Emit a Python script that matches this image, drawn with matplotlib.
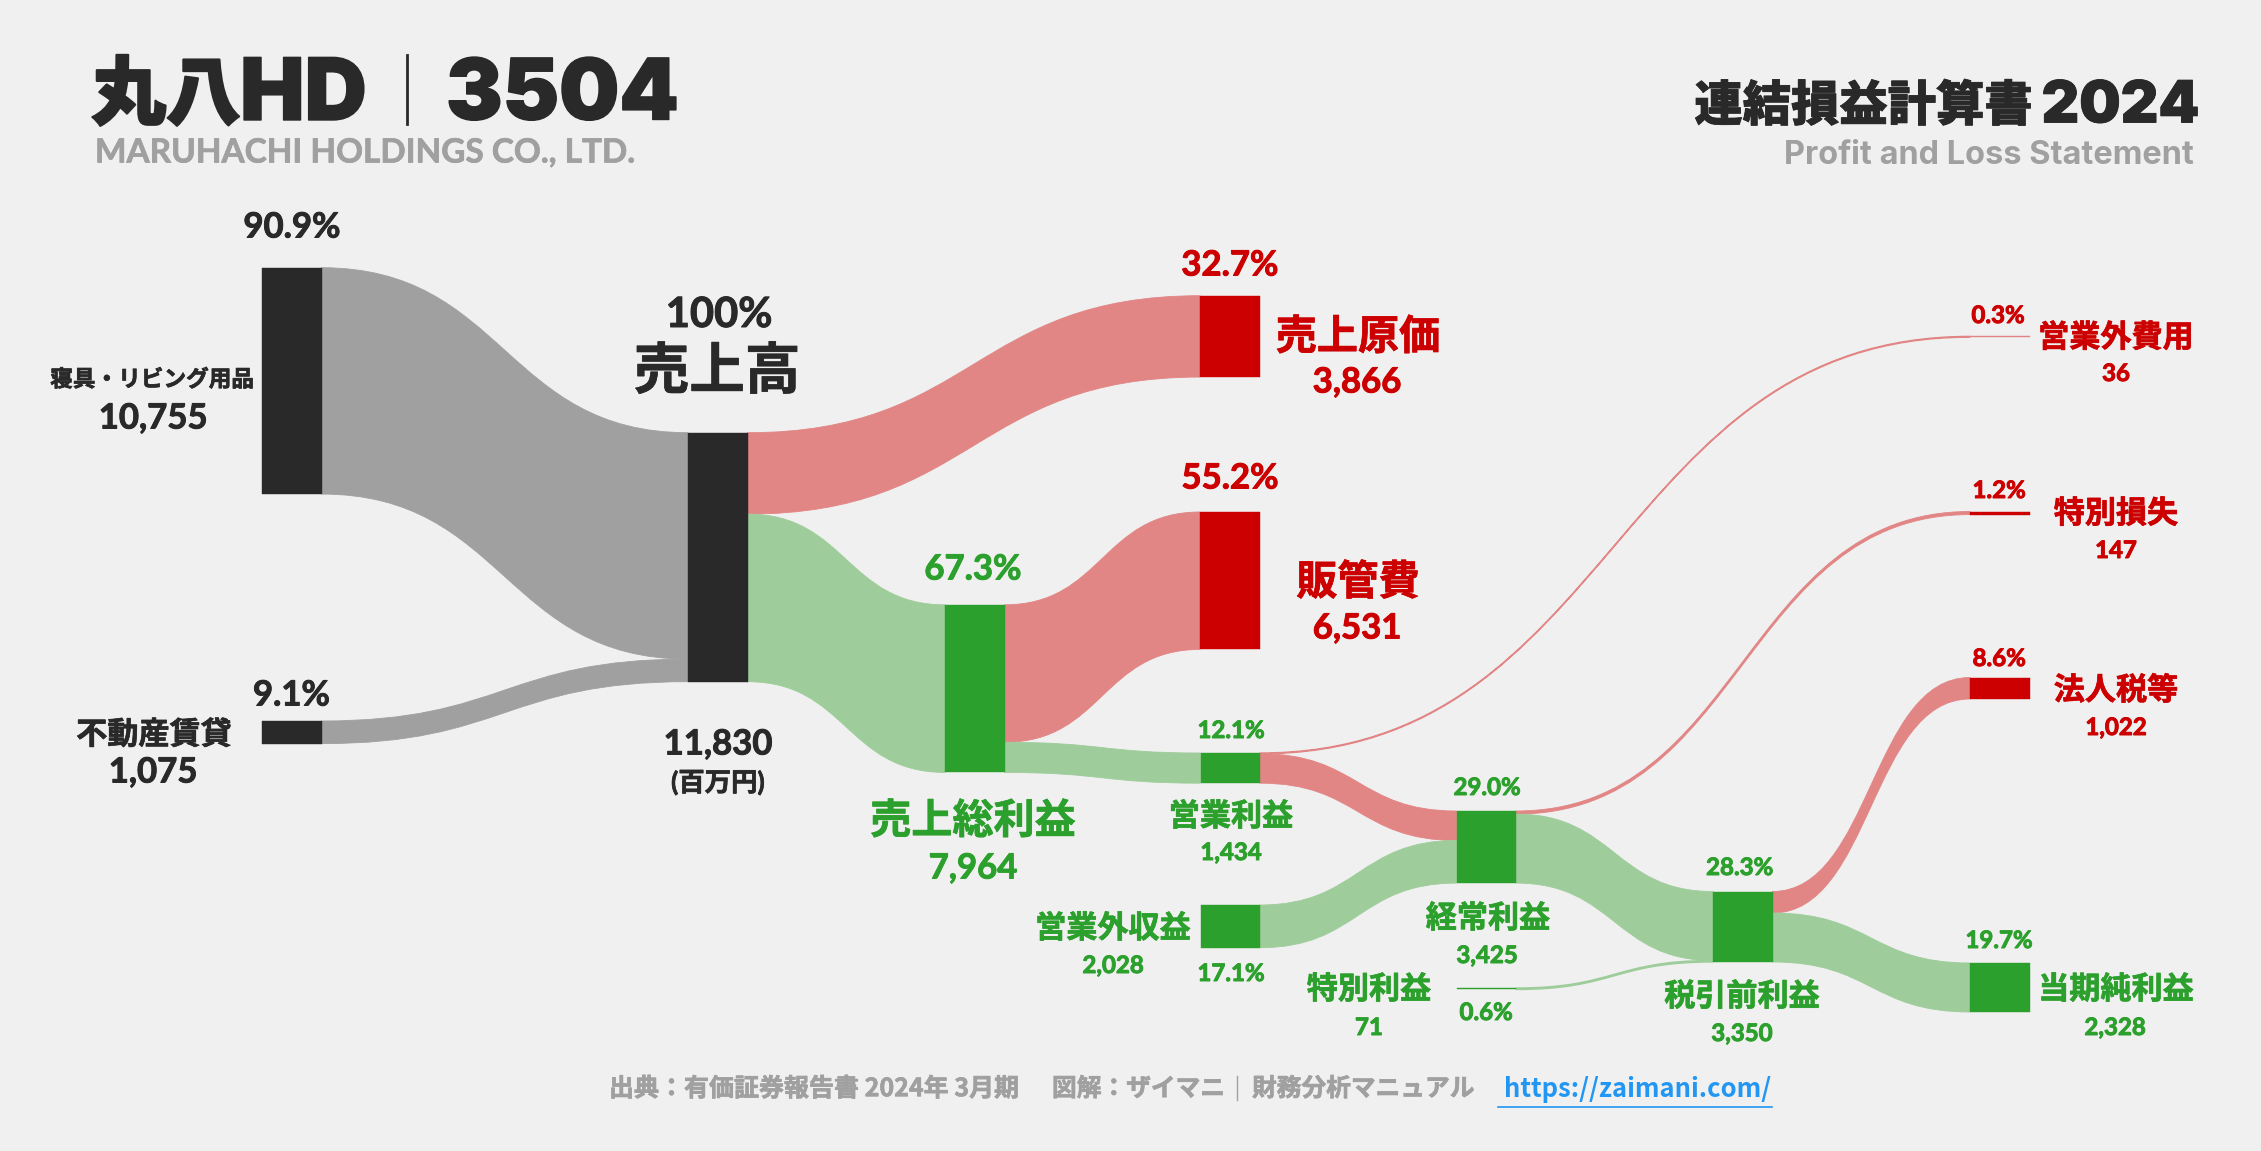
#!/usr/bin/env python
import matplotlib
matplotlib.use('Agg')
import matplotlib.pyplot as plt
import matplotlib.patheffects as pe
from matplotlib.path import Path
from matplotlib.patches import PathPatch, Rectangle

# data (million yen)
node_names = ['寝具・リビング用品', '不動産賃貸', '売上高', '売上原価', '売上総利益', '販管費',
              '営業利益', '営業外収益', '営業外費用', '経常利益', '特別損失', '特別利益',
              '税引前利益', '法人税等', '当期純利益']
node_values = [10755, 1075, 11830, 3866, 7964, 6531, 1434, 2028, 36, 3425, 147, 71, 3350, 1022, 2328]
node_pcts = [90.9, 9.1, 100, 32.7, 67.3, 55.2, 12.1, 17.1, 0.3, 29.0, 1.2, 0.6, 28.3, 8.6, 19.7]
node_kinds = ['k', 'k', 'k', 'r', 'g', 'r', 'g', 'g', 'r', 'g', 'r', 'g', 'g', 'r', 'g']

link_from = ['寝具・リビング用品', '不動産賃貸', '売上高', '売上高', '売上総利益', '売上総利益', '営業利益', '営業利益',
             '営業外収益', '経常利益', '経常利益', '特別利益', '税引前利益', '税引前利益']
link_to = ['売上高', '売上高', '売上原価', '売上総利益', '販管費', '営業利益', '営業外費用', '経常利益',
           '経常利益', '特別損失', '税引前利益', '税引前利益', '法人税等', '当期純利益']
link_values = [10755, 1075, 3866, 7964, 6531, 1434, 36, 1398, 2028, 147, 3278, 71, 1022, 2328]
link_kinds = ['k', 'k', 'r', 'g', 'r', 'g', 'r', 'r', 'g', 'r', 'g', 'g', 'r', 'g']

# layout, all in pixels of the 2261x1151 picture
W, H = 2261, 1151
px_per_unit = 249.0 / 11830
node_w = 59.5
node_pos = {'寝具・リビング用品': (262, 267.7), '不動産賃貸': (262, 721), '売上高': (688, 432.7),
            '売上原価': (1200, 295.7), '売上総利益': (945, 604.8), '販管費': (1200, 512),
            '営業利益': (1200.5, 753), '営業外収益': (1200.5, 905), '営業外費用': (1970, 336.4),
            '経常利益': (1456.5, 811), '特別損失': (1970, 511.5), '特別利益': (1456.5, 988),
            '税引前利益': (1713, 891.5), '法人税等': (1970, 677.5), '当期純利益': (1970, 963)}

# node: pct xy, name xy, value xy, pct size, name size, value size
big, mid, small, name_s = 25, 29.6, 17.3, 22.4
label_pos = {
    '寝具・リビング用品': ((292, 226), (152, 379), (153, 417), big, 16.3, 25),
    '不動産賃貸': ((291.5, 694), (154, 733), (153, 771), big, 22.4, big),
    '売上高': ((719, 313), (717, 368), (718, 743), 30, 40, big),
    '売上原価': ((1230, 264), (1358, 335), (1357, 381), big, mid, big),
    '売上総利益': ((973, 568), (973, 819), (973, 867), big, mid, big),
    '販管費': ((1230, 477), (1358, 580), (1357, 627), big, mid, big),
    '営業利益': ((1231, 730), (1231, 815), (1231, 852), small, name_s, small),
    '営業外収益': ((1231, 973), (1113, 927), (1113, 965), small, name_s, small),
    '営業外費用': ((1998, 315), (2116, 336), (2116, 373), small, name_s, small),
    '経常利益': ((1487, 787), (1488, 917), (1487, 955), small, name_s, small),
    '特別損失': ((1999, 490), (2116, 512), (2116, 550), small, name_s, small),
    '特別利益': ((1486, 1012), (1369, 988), (1369, 1027), small, name_s, small),
    '税引前利益': ((1739.5, 867), (1742, 995), (1742, 1033), small, name_s, small),
    '法人税等': ((1999, 658), (2116, 689), (2116, 727), small, name_s, small),
    '当期純利益': ((1999, 940), (2116, 988), (2115, 1027), small, name_s, small),
}

BG = '#f0f0f0'
DARK = '#292929'
GRAY = '#a0a0a0'
URL = '#2196f3'
node_color = {'k': DARK, 'r': '#cc0000', 'g': '#2ca02c'}
flow_color = {'k': '#a0a0a0', 'r': '#e28585', 'g': '#9ecd9b'}
FONT = ['Lato', 'Noto Sans CJK JP', 'DejaVu Sans']
CJK = ['Noto Sans CJK JP', 'DejaVu Sans']
LATIN = ['Inter', 'Noto Sans CJK JP', 'DejaVu Sans']

plt.rcParams['font.family'] = FONT

fig = plt.figure(figsize=(W / 100.0, H / 100.0), dpi=100, facecolor=BG)
ax = fig.add_axes([0, 0, 1, 1])
ax.set_xlim(0, W)
ax.set_ylim(H, 0)
ax.axis('off')


def put(x, y, s, size, color, family=FONT, weight='bold', ha='center', stroke=0.5):
    t = ax.text(x, y - 1.5, s, fontsize=size, color=color, family=family, weight=weight, ha=ha, va='center_baseline')
    if stroke:
        t.set_path_effects([pe.withStroke(linewidth=stroke, foreground=color)])


def flow(x0, y0, x1, y1, h, color):
    mid_x = (x0 + x1) / 2.0
    verts = [(x0, y0), (mid_x, y0), (mid_x, y1), (x1, y1),
             (x1, y1 + h), (mid_x, y1 + h), (mid_x, y0 + h), (x0, y0 + h), (x0, y0)]
    codes = [Path.MOVETO, Path.CURVE4, Path.CURVE4, Path.CURVE4,
             Path.LINETO, Path.CURVE4, Path.CURVE4, Path.CURVE4, Path.CLOSEPOLY]
    lw = 1.0 if h < 2 else 0.6
    ax.add_patch(PathPatch(Path(verts, codes), facecolor=color, edgecolor=color, lw=lw, zorder=1))


# links stack from the top of each node in list order
out_used = {n: 0.0 for n in node_names}
in_used = {n: 0.0 for n in node_names}
for src, dst, val, kind in zip(link_from, link_to, link_values, link_kinds):
    h = val * px_per_unit
    x0 = node_pos[src][0] + node_w
    y0 = node_pos[src][1] + out_used[src]
    x1 = node_pos[dst][0]
    y1 = node_pos[dst][1] + in_used[dst]
    flow(x0, y0, x1, y1, h, flow_color[kind])
    out_used[src] += h
    in_used[dst] += h

for name, val, pct, kind in zip(node_names, node_values, node_pcts, node_kinds):
    x, y = node_pos[name]
    c = node_color[kind]
    h = val * px_per_unit
    # the smallest node is only a pale hairline in the original
    if h < 1:
        c = flow_color[kind]
    ax.add_patch(Rectangle((x, y), node_w, h, facecolor=c, edgecolor=c, lw=0.3, zorder=2))
    c = node_color[kind]
    p_xy, n_xy, v_xy, p_size, n_size, v_size = label_pos[name]
    pct_text = '100%' if pct == 100 else '%.1f%%' % pct
    put(p_xy[0], p_xy[1], pct_text, p_size, c, stroke=0.7)
    put(n_xy[0], n_xy[1], name, n_size, c)
    put(v_xy[0], v_xy[1], format(val, ','), v_size, c, stroke=0.7)

put(718, 782, '(百万円)', 19, DARK)

# header
put(91, 90, '丸八', 54, DARK, family=CJK, weight='black', ha='left', stroke=1.5)
put(240, 90, 'HD', 62, DARK, family=LATIN, weight='black', ha='left', stroke=1)
ax.plot([406.5, 406.5], [55, 124], color=DARK, lw=2)
put(446, 90, '3504', 61, DARK, family=LATIN, weight='black', ha='left', stroke=1)
put(95, 152, 'MARUHACHI HOLDINGS CO., LTD.', 24, GRAY, ha='left')
put(2033, 103, '連結損益計算書', 34.8, DARK, family=CJK, weight='black', ha='right', stroke=0.6)
put(2199.5, 103, '2024', 42, DARK, family=LATIN, weight='black', ha='right', stroke=0.6)
put(2194, 153, 'Profit and Loss Statement', 23.4, GRAY, family=LATIN, ha='right', stroke=0)

# footer
put(609, 1088, '出典：有価証券報告書 2024年 3月期', 18, GRAY, family=CJK, ha='left')
put(1052, 1088, '図解：ザイマニ', 17.8, GRAY, family=CJK, ha='left')
ax.plot([1237, 1237], [1076, 1100], color=GRAY, lw=1)
put(1252, 1088, '財務分析マニュアル', 17.8, GRAY, family=CJK, ha='left')
put(1504, 1088, 'https://zaimani.com/', 18.4, URL, family=CJK, ha='left', stroke=0)
ax.plot([1498, 1772], [1107, 1107], color=URL, lw=1.2)

fig.savefig('out.png', dpi=100, facecolor=BG)
